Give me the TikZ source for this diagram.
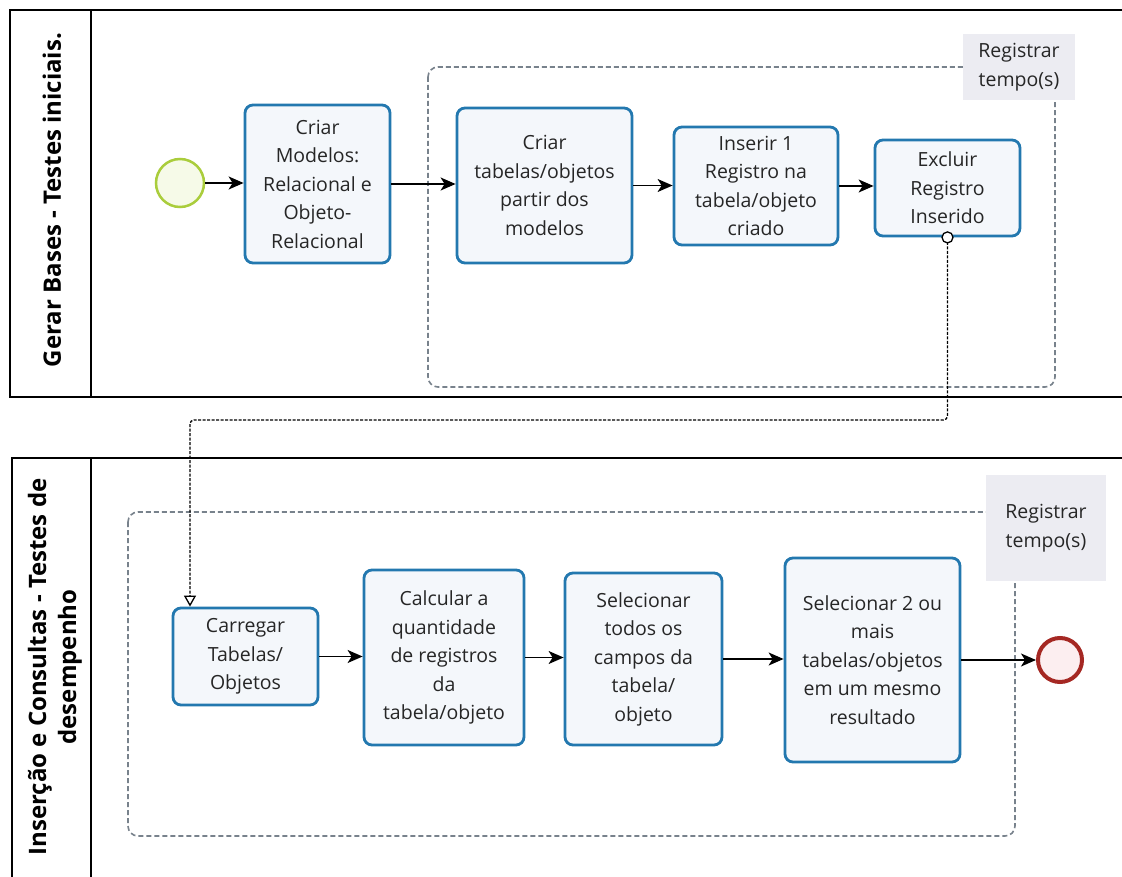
\documentclass[tikz,border=0pt]{standalone}
\usepackage{fontspec}
\setmainfont{Open Sans}
\usetikzlibrary{arrows.meta}
\definecolor{taskblue}{RGB}{35,120,175}
\definecolor{taskfill}{RGB}{244,247,251}
\definecolor{groupgray}{RGB}{120,130,140}
\definecolor{startgreen}{RGB}{170,205,60}
\definecolor{startfill}{RGB}{246,250,232}
\definecolor{endred}{RGB}{165,40,35}
\definecolor{endfill}{RGB}{252,238,240}
\definecolor{annofill}{RGB}{236,236,242}
\begin{document}
\begin{tikzpicture}[x=1pt,y=-1pt,
  task/.style={draw=taskblue,line width=2.8pt,fill=taskfill,rounded corners=8pt,align=center,font=\fontsize{19.5}{28.5}\selectfont,text=black!85,inner sep=2pt},
  flow/.style={draw=black,line width=1.4pt,-{Stealth[length=15pt,width=13pt,inset=4pt]}},
  group/.style={draw=groupgray,line width=1.6pt,rounded corners=10pt,dash pattern=on 5pt off 3pt},
  anno/.style={fill=annofill,align=center,font=\fontsize{19.5}{29}\selectfont,text=black!85},
  msg/.style={draw=black,line width=1.3pt,dash pattern=on 3pt off 1.5pt,rounded corners=4pt},
  lane/.style={font=\bfseries\fontsize{24}{30}\selectfont,rotate=90,align=center},
  pool/.style={draw=black,line width=1.8pt}]
\useasboundingbox (0,0) rectangle (1122,877);
\fill[white] (0,0) rectangle (1122,877);

% pools
\draw[pool] (1122,10) -- (10,10) -- (10,397) -- (1122,397);
\draw[pool] (91,10) -- (91,397);
\node[lane] (lane1) at (52,200) {Gerar Bases - Testes iniciais.};
\draw[pool] (1122,458) -- (12,458) -- (12,877);
\draw[pool] (91,458) -- (91,877);
\node[lane] (lane2) at (55,667) {Inserção e Consultas - Testes de\\desempenho};

% groups
\draw[group] (428,67) rectangle (1055,387);
\draw[group] (128,512) rectangle (1015,836);

% annotations
\node[anno,minimum width=112,minimum height=66] (anno1) at (1019,67) {Registrar\\tempo(s)};
\node[anno,minimum width=120,minimum height=106] (anno2) at (1046,528) {Registrar\\tempo(s)};

% events
\node[circle,draw=startgreen,line width=2.5pt,fill=startfill,minimum size=48] (start) at (180,183) {};
\node[circle,draw=endred,line width=4pt,fill=endfill,minimum size=44] (end) at (1060,660) {};

% tasks
\node[task,minimum width=145,minimum height=158] (t1) at (317.5,184) {Criar\\Modelos:\\Relacional e\\Objeto-\\Relacional};
\node[task,minimum width=175,minimum height=155] (t2) at (544.5,185.5) {Criar\\tabelas/objetos\\partir dos\\modelos};
\node[task,minimum width=164,minimum height=118] (t3) at (756,186) {Inserir 1\\Registro na\\tabela/objeto\\criado};
\node[task,minimum width=145,minimum height=96] (t4) at (947.5,188) {Excluir\\Registro\\Inserido};
\node[task,minimum width=145,minimum height=97] (b5) at (245.5,656.5) {Carregar\\Tabelas/\\Objetos};
\node[task,minimum width=160,minimum height=175] (b6) at (444,657.5) {Calcular a\\quantidade\\de registros\\da\\tabela/objeto};
\node[task,minimum width=157,minimum height=172] (b7) at (643.5,659) {Selecionar\\todos os\\campos da\\tabela/\\objeto};
\node[task,minimum width=175,minimum height=204] (b8) at (872.5,660) {Selecionar 2 ou\\mais\\tabelas/objetos\\em um mesmo\\resultado};

% sequence flows
\draw[flow] (start) -- (start -| t1.west);
\draw[flow] (t1) -- (t1 -| t2.west);
\draw[flow] (t2) -- (t2 -| t3.west);
\draw[flow] (t3) -- (t3 -| t4.west);
\draw[flow] (b5) -- (b5 -| b6.west);
\draw[flow] (b6) -- (b6 -| b7.west);
\draw[flow] (b7) -- (b7 -| b8.west);
\draw[flow] (b8) -- (end);

% message flow
\coordinate (mc) at (190,420);
\draw[msg,-{Triangle[open,length=11pt,width=12pt]}] (t4.south) |- (mc) -- (b5.north -| mc);
\draw[black,line width=1.3pt,fill=white] (t4.south) circle (5.5pt);
\end{tikzpicture}
\end{document}
